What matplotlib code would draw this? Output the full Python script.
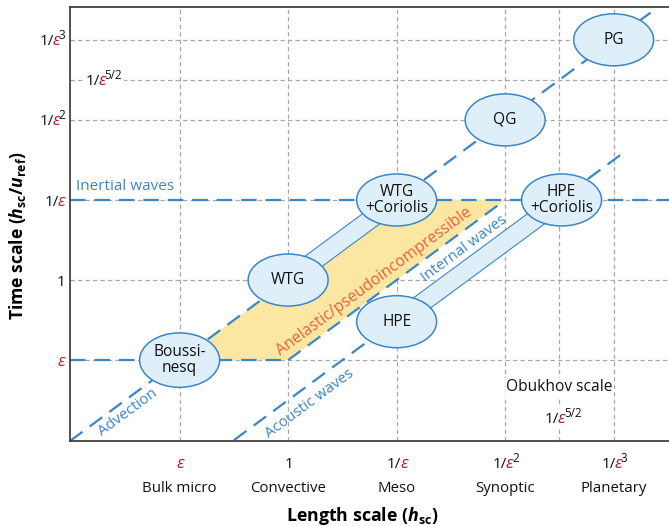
import numpy as np
import matplotlib
matplotlib.use('Agg')
import matplotlib.pyplot as plt
from matplotlib.patches import Ellipse, Polygon, Rectangle
from matplotlib import transforms as mtrans

plt.rcParams['font.family'] = ['Open Sans', 'DejaVu Sans']
plt.rcParams['mathtext.fontset'] = 'custom'
plt.rcParams['mathtext.rm'] = 'Open Sans:bold'
plt.rcParams['mathtext.it'] = 'Open Sans:italic:bold'
plt.rcParams['mathtext.bf'] = 'Open Sans:bold'

# scales are written as powers of 1/eps
x_pows = [-1, 0, 1, 2, 3]
x_names = ['Bulk micro', 'Convective', 'Meso', 'Synoptic', 'Planetary']
y_pows = [-1, 0, 1, 2, 3]
obukhov = 2.5

regimes = ['Boussi-\nnesq', 'WTG', 'WTG\n+Coriolis', 'HPE', 'HPE\n+Coriolis', 'QG', 'PG']
reg_x = [-1, 0, 1, 1, 2.52, 2, 3]
reg_y = [-1, 0, 1, -0.52, 1, 2, 3]
bands = [(1, 2), (3, 4)]

# anelastic/pseudoincompressible region
anel_x = [-1, 0, 2, 1]
anel_y = [-1, -1, 1, 1]

# wave lines: time = length * eps^shift
adv_shift, adv_x = 0, (-2.01, 3.34)
ac_shift, ac_x = -1.5, (-0.5, 3.12)
edge_shift, edge_x = -1, (0, 2)
inertial_y = 1
eps_y, eps_x = -1, (-2.01, 0)

BLUE = '#3B86C7'
LIGHT = '#DFEFFA'
YELLOW = '#FCE7A2'
RED = '#A3202A'
ORANGE = '#E5613D'
GRID = '#A8A8A8'
INK = '#111111'
DPI = 100

fig = plt.figure(figsize=(6.69, 5.26), dpi=DPI)
ax = fig.add_axes([70/669, 85/526, 599/669, 434/526])
ax.set_xlim(-2.01, 3.51)
ax.set_ylim(-2.01, 3.41)
ax.set_xticks([])
ax.set_yticks([])
ax.spines['right'].set_visible(False)
for s in ['left', 'top', 'bottom']:
    ax.spines[s].set_linewidth(1.2)
    ax.spines[s].set_color('#333333')

for v in x_pows + [obukhov]:
    ax.axvline(v, color=GRID, lw=0.9, dashes=(3.5, 2.5), zorder=0.5)
for v in y_pows + [obukhov]:
    ax.axhline(v, color=GRID, lw=0.9, dashes=(3.5, 2.5), zorder=0.5)

ax.add_patch(Polygon(list(zip(anel_x, anel_y)), closed=True, fc=YELLOW, ec='none', zorder=1))

dash = dict(color=BLUE, lw=1.6, dashes=(7, 4), zorder=2)
for sh, (x0, x1) in [(adv_shift, adv_x), (ac_shift, ac_x), (edge_shift, edge_x)]:
    xs = np.array([x0, x1])
    ax.plot(xs, xs + sh, **dash)
ax.axhline(inertial_y, **dash)
ax.plot(eps_x, [eps_y, eps_y], **dash)

for a, b in bands:
    xs, ys = [reg_x[a], reg_x[b]], [reg_y[a], reg_y[b]]
    ax.plot(xs, ys, color=BLUE, lw=14.0, solid_capstyle='butt', zorder=3)
    ax.plot(xs, ys, color=LIGHT, lw=12.4, solid_capstyle='butt', zorder=3.1)

for name, x, y in zip(regimes, reg_x, reg_y):
    h = 0.68 if name.startswith('Boussi') else 0.65
    ax.add_patch(Ellipse((x, y), 0.737, h, fc=LIGHT, ec=BLUE, lw=1.1, zorder=4))
    ax.text(x, y, name, ha='center', va='center', fontsize=11.2, linespacing=1.0,
            color=INK, zorder=5)

fig.canvas.draw()
rend = fig.canvas.get_renderer()
p = ax.transData.transform([(0, 0), (1, 1)])
ang = np.degrees(np.arctan2(p[1, 1] - p[0, 1], p[1, 0] - p[0, 0]))


def eps_parts(pw):
    # (text, colour, size factor, raised)
    if pw == 0:
        return [('1', INK, 1, 0)]
    if pw == -1:
        return [('ε', RED, 1.12, 0)]
    parts = [('1/', INK, 1, 0), ('ε', RED, 1.12, 0)]
    if pw != 1:
        parts.append(('5/2' if pw == 2.5 else str(int(pw)), INK, 0.76, 1))
    return parts


def put_label(x, y, pw, trans, ha='center', dy=0, size=11, bg=False):
    objs = []
    for s, c, k, sup in eps_parts(pw):
        t = ax.text(x, y, s, transform=trans, color=c, fontsize=size*k,
                    fontstyle='italic' if s == 'ε' else 'normal',
                    ha='left', va='baseline', zorder=6, clip_on=False)
        objs.append((t, sup))
    ws = [t.get_window_extent(rend).width - 1.5 for t, _ in objs]
    off = {'left': 0, 'center': -sum(ws)/2, 'right': -sum(ws)}[ha]
    for (t, sup), w in zip(objs, ws):
        t.set_transform(trans + mtrans.ScaledTranslation(
            off/DPI, (dy + sup*size*0.4)/72, fig.dpi_scale_trans))
        off += w
    if bg:
        bb = mtrans.Bbox.union([t.get_window_extent(rend) for t, _ in objs])
        ax.add_patch(Rectangle((bb.x0 - 2, bb.y0 - 1), bb.width + 4, bb.height + 2,
                               transform=mtrans.IdentityTransform(), fc='white', ec='none',
                               zorder=5.5))


bx = mtrans.blended_transform_factory(ax.transData, ax.transAxes)
by = mtrans.blended_transform_factory(ax.transAxes, ax.transData)
for pw, name in zip(x_pows, x_names):
    put_label(pw, 0, pw, bx, dy=-19.5)
    ax.text(pw, 0, name, transform=bx + mtrans.ScaledTranslation(0, -37/72, fig.dpi_scale_trans),
            ha='center', va='baseline', fontsize=10.8, color=INK, clip_on=False)
for pw in y_pows:
    put_label(0, pw, pw, by + mtrans.ScaledTranslation(-6/DPI, 0, fig.dpi_scale_trans),
              ha='right', dy=-4)

put_label(-1.87, obukhov, obukhov, ax.transData, ha='left', dy=-4, bg=True)
put_label(obukhov + 0.03, -1.79, obukhov, ax.transData, ha='center', dy=0, bg=True)
ax.text(2.5, -1.34, 'Obukhov scale', ha='center', va='center', fontsize=11.2, color=INK,
        zorder=6, bbox=dict(fc='white', ec='none', pad=1))

ax.text(-1.955, 1.07, 'Inertial waves', ha='left', va='bottom', fontsize=11, color=BLUE, zorder=6)
lab = dict(rotation=ang, rotation_mode='anchor', ha='center', va='center', fontsize=10.9, zorder=6)
ax.text(-1.475, -1.65, 'Advection', color=BLUE, **lab)
ax.text(0.194, -1.54, 'Acoustic waves', color=BLUE, **lab)
ax.text(1.622, 0.39, 'Internal waves', color=BLUE, **lab)
ax.text(0.793, -0.02, 'Anelastic/pseudoincompressible', color=ORANGE,
        **{**lab, 'fontsize': 11.3})

fig.text(362/669, 1 - 516/526, r'Length scale ($h_{\mathbf{sc}}$)', ha='center', va='center',
         fontsize=12.8, fontweight='bold')
fig.text(18/669, 1 - 236/526, r'Time scale ($h_{\mathbf{sc}}/u_{\mathbf{ref}}$)', ha='center',
         va='center', rotation=90, fontsize=12.6, fontweight='bold')

fig.savefig('out.png', dpi=DPI)
